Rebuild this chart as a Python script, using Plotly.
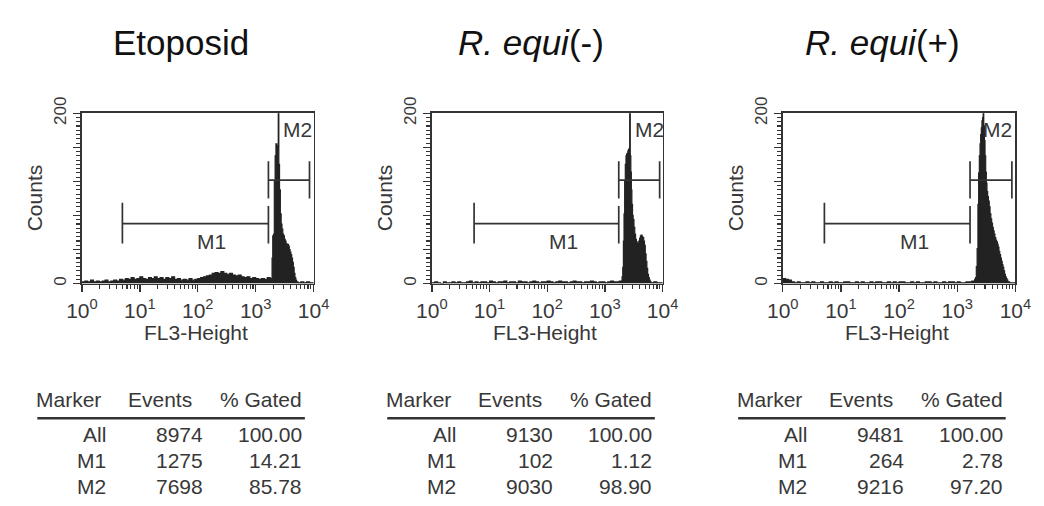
import numpy as np
import plotly.graph_objects as go

W, H = 1044, 506

# ---------------- data ----------------
titles = ["Etoposid", "<i>R. equi</i>(-)", "<i>R. equi</i>(+)"]

# channel grid (log10 FL3) for the low-intensity part of each histogram
low_bins = [round(0.05 * i, 2) for i in range(66)]

p1_low_counts = [2, 3, 2, 4, 2, 3, 2, 3, 4, 2, 3, 4, 3, 5,
                 4, 6, 5, 7, 5, 6, 8, 6, 5, 7, 6, 8, 6, 7, 5, 7, 6, 8, 5, 6,
                 4, 5, 4, 6, 4, 5, 6, 7, 8,
                 9, 10, 12, 13, 12, 14, 12, 11, 12, 10, 9, 10, 8,
                 7, 8, 6, 7, 6, 5, 6, 5, 7, 5]
p2_low_counts = [1, 2, 1, 0, 2, 1, 1, 2, 1, 2, 1, 1, 2, 3, 1, 2, 1, 2, 2, 1,
                 3, 2, 1, 2, 2, 3, 1, 2, 2, 1, 3, 2, 2, 1, 2, 3, 2, 1, 2, 2,
                 3, 2, 1, 2, 3, 2, 2, 1, 2, 3, 2, 2, 1, 2, 2, 3, 2, 1, 2, 2,
                 1, 2, 3, 2, 2, 3]
p3_low_counts = [6, 5, 4, 2, 1, 2, 1, 1, 2, 1, 2, 1, 1, 2, 1, 1, 2, 1, 2, 1,
                 1, 2, 2, 1, 1, 2, 1, 2, 1, 1, 2, 1, 2, 2, 1, 1, 2, 1, 2, 1,
                 2, 2, 1, 1, 2, 1, 2, 1, 1, 2, 2, 1, 2, 1, 1, 2, 1, 2, 2, 1,
                 2, 1, 1, 2, 2, 3]

p1_peak_log = [3.270, 3.283, 3.295, 3.310, 3.322, 3.336, 3.350, 3.364, 3.378, 3.390,
               3.400, 3.412, 3.426, 3.440, 3.454, 3.468, 3.482, 3.496, 3.510, 3.524,
               3.538, 3.552, 3.566, 3.580, 3.594, 3.608, 3.622, 3.636, 3.650, 3.664,
               3.678, 3.692, 3.706, 3.73, 3.78, 3.83, 3.88, 3.93, 3.97]
p1_peak_counts = [6, 30, 56, 58, 120, 150, 164, 162, 160, 260,
                  140, 110, 82, 70, 64, 58, 56, 52, 50, 47,
                  45, 46, 44, 40, 37, 34, 30, 25, 19, 12,
                  7, 4, 2, 1, 2, 1, 2, 1, 1]

p2_peak_log = [3.280, 3.298, 3.310, 3.321, 3.332, 3.343, 3.354, 3.366, 3.377, 3.388,
               3.399, 3.410, 3.421, 3.430, 3.440, 3.450, 3.459, 3.468, 3.479, 3.490,
               3.504, 3.518, 3.532, 3.546, 3.560, 3.574, 3.588, 3.602, 3.616, 3.630,
               3.645, 3.659, 3.673, 3.687, 3.700, 3.714, 3.728, 3.742, 3.756, 3.770,
               3.785, 3.80, 3.85, 3.90, 3.95]
p2_peak_counts = [3, 8, 19, 50, 82, 120, 140, 150, 152, 153,
                  156, 158, 155, 260, 150, 131, 110, 93, 80, 75,
                  66, 58, 52, 49, 47, 46, 50, 53, 56, 57,
                  55, 54, 50, 45, 35, 26, 18, 11, 7, 4,
                  2, 1, 2, 1, 1]

p3_peak_log = [3.280, 3.300, 3.314, 3.328, 3.342, 3.356, 3.368, 3.380, 3.392, 3.403,
               3.414, 3.425, 3.436, 3.446, 3.456, 3.467, 3.478, 3.489, 3.500, 3.511,
               3.523, 3.536, 3.550, 3.564, 3.578, 3.592, 3.606, 3.620, 3.634, 3.648,
               3.662, 3.676, 3.690, 3.703, 3.717, 3.731, 3.745, 3.759, 3.773, 3.787,
               3.800, 3.814, 3.828, 3.842, 3.856, 3.870, 3.90, 3.95]
p3_peak_counts = [3, 5, 7, 20, 41, 93, 130, 150, 164, 175,
                  183, 191, 195, 260, 185, 168, 150, 131, 118, 108,
                  102, 97, 90, 82, 76, 71, 66, 62, 58, 54,
                  51, 49, 46, 43, 38, 34, 30, 26, 22, 19,
                  15, 11, 8, 6, 4, 2, 1, 1]

m1_gates = [[5.0, 1660], [5.4, 1740], [5.2, 1660]]
m2_gates = [[1660, 8500], [1740, 8900], [1660, 8700]]

table_header = ["Marker", "Events", "% Gated"]
table_markers = ["All", "M1", "M2"]
table_events = [[8974, 1275, 7698], [9130, 102, 9030], [9481, 264, 9216]]
table_gated = [["100.00", "14.21", "85.78"], ["100.00", "1.12", "98.90"], ["100.00", "2.78", "97.20"]]

x_tickvals = [1, 10, 100, 1000, 10000]
x_ticktext = ["10<sup>0</sup>", "10<sup>1</sup>", "10<sup>2</sup>", "10<sup>3</sup>", "10<sup>4</sup>"]
y_tickvals = [0, 40, 80, 120, 160, 200]
y_ticktext = ["0", "", "", "", "", "200"]

# ---------------- layout geometry (pixels) ----------------
plot_left = [68, 429, 791]
plot_right = [307, 667, 1031]
plot_top, plot_bot = 100, 277
FONT = "Liberation Sans, Arial, sans-serif"
INK = "#222222"
TXT = "#383838"


def px(x):
    return x / W


def py(y):
    return 1 - y / H


fig = go.Figure()
annotations = []
shapes = []

hist_logs = [low_bins + p1_peak_log, low_bins + p2_peak_log, low_bins + p3_peak_log]
hist_counts = [p1_low_counts + p1_peak_counts, p2_low_counts + p2_peak_counts,
               p3_low_counts + p3_peak_counts]

minor_x = [k * 10 ** d for d in range(4) for k in range(2, 10)]

for i in range(3):
    sfx = "" if i == 0 else str(i + 1)
    xa, ya = "x" + sfx, "y" + sfx
    lg = hist_logs[i] + [4.0]
    ct = hist_counts[i] + [0]
    xs = [10 ** v for v in lg]
    fig.add_trace(go.Scatter(x=xs, y=ct, mode="lines", line=dict(color=INK, width=1.2, shape="hv"),
                             fill="tozeroy", fillcolor=INK, xaxis=xa, yaxis=ya,
                             showlegend=False, hoverinfo="skip"))
    # markers M1 / M2
    g1, g2 = m1_gates[i], m2_gates[i]
    mx = [g1[0], g1[1], None, g1[0], g1[0], None, g1[1], g1[1], None,
          g2[0], g2[1], None, g2[0], g2[0], None, g2[1], g2[1]]
    my = [70.5, 70.5, None, 47, 95, None, 47, 91, None,
          121.5, 121.5, None, 100, 143.5, None, 100, 143.5]
    fig.add_trace(go.Scatter(x=mx, y=my, mode="lines", line=dict(color="#333", width=1.7),
                             xaxis=xa, yaxis=ya, showlegend=False, hoverinfo="skip"))

    dom_x = [px(plot_left[i]), px(plot_right[i])]
    dom_y = [py(plot_bot), py(plot_top)]
    fig.layout["xaxis" + sfx] = dict(
        domain=dom_x, anchor=ya, type="log", range=[0, 4],
        tickmode="array", tickvals=x_tickvals, ticktext=x_ticktext,
        ticks="outside", ticklen=7, tickwidth=1.4, tickcolor="#333",
        minor=dict(tickmode="array", tickvals=minor_x, ticks="outside", ticklen=4,
                   tickwidth=1.1, tickcolor="#333"),
        showline=True, mirror=True, linecolor="#333", linewidth=1.8,
        showgrid=False, zeroline=False, fixedrange=True,
        tickfont=dict(family=FONT, size=21, color=TXT))
    fig.layout["yaxis" + sfx] = dict(
        domain=dom_y, anchor=xa, range=[0, 200],
        tickmode="array", tickvals=y_tickvals, ticktext=y_ticktext, tickangle=-90,
        ticks="outside", ticklen=7, tickwidth=1.4, tickcolor="#333",
        minor=dict(tickmode="linear", tick0=0, dtick=5, ticks="outside", ticklen=4,
                   tickwidth=1.1, tickcolor="#333"),
        showline=True, mirror=True, linecolor="#333", linewidth=1.8,
        showgrid=False, zeroline=False, fixedrange=True,
        tickfont=dict(family=FONT, size=17, color=TXT))

    L = plot_left[i]
    cx = (plot_left[i] + plot_right[i]) / 2
    # title
    annotations.append(dict(x=px(cx - 17), y=py(27), xref="paper", yref="paper",
                            text=titles[i], showarrow=False, xanchor="center", yanchor="middle",
                            font=dict(family=FONT, size=35, color="#111")))
    # axis titles
    annotations.append(dict(x=px(cx - 2), y=py(328), xref="paper", yref="paper",
                            text="FL3-Height", showarrow=False, xanchor="center", yanchor="middle",
                            font=dict(family=FONT, size=21, color=TXT)))
    annotations.append(dict(x=px(L - 48), y=py(188), xref="paper", yref="paper",
                            text="Counts", showarrow=False, textangle=-90,
                            xanchor="center", yanchor="middle",
                            font=dict(family=FONT, size=21, color=TXT)))
    # gate labels
    m1_lab = [2.23, 2.29, 2.27][i]
    m2_lab = [3.72, 3.78, 3.70][i]
    annotations.append(dict(x=m1_lab, y=50, xref=xa, yref=ya, text="M1", showarrow=False,
                            font=dict(family=FONT, size=21, color=TXT)))
    annotations.append(dict(x=m2_lab, y=181, xref=xa, yref=ya, text="M2", showarrow=False,
                            font=dict(family=FONT, size=21, color=TXT)))
    # table
    col_right = [L + 22, L + 116, L + 229]
    val_right = [L + 27, L + 127, L + 229]
    for c in range(3):
        annotations.append(dict(x=px(col_right[c]), y=py(397), xref="paper", yref="paper",
                                text=table_header[c], showarrow=False, xanchor="right",
                                yanchor="middle", font=dict(family=FONT, size=21, color=TXT)))
    for r in range(3):
        yy = py([434, 461, 488][r])
        row = [table_markers[r], str(table_events[i][r]), table_gated[i][r]]
        for c in range(3):
            annotations.append(dict(x=px(val_right[c]), y=yy, xref="paper", yref="paper",
                                    text=row[c], showarrow=False, xanchor="right",
                                    yanchor="middle", font=dict(family=FONT, size=21, color=TXT)))
    shapes.append(dict(type="line", xref="paper", yref="paper",
                       x0=px(L - 46), x1=px(L + 230), y0=py(417), y1=py(417),
                       line=dict(color="#333", width=2.5)))

fig.update_layout(autosize=True, margin=dict(l=0, r=0, t=0, b=0),
                  paper_bgcolor="white", plot_bgcolor="white",
                  annotations=annotations, shapes=shapes, showlegend=False)

fig.write_html("out.html",
               config={"displayModeBar": False, "staticPlot": True, "responsive": True},
               default_width="100vw", default_height="100vh",
               post_script="document.body.style.margin='0';document.body.style.padding='0';"
                           "document.documentElement.style.overflow='hidden';")
